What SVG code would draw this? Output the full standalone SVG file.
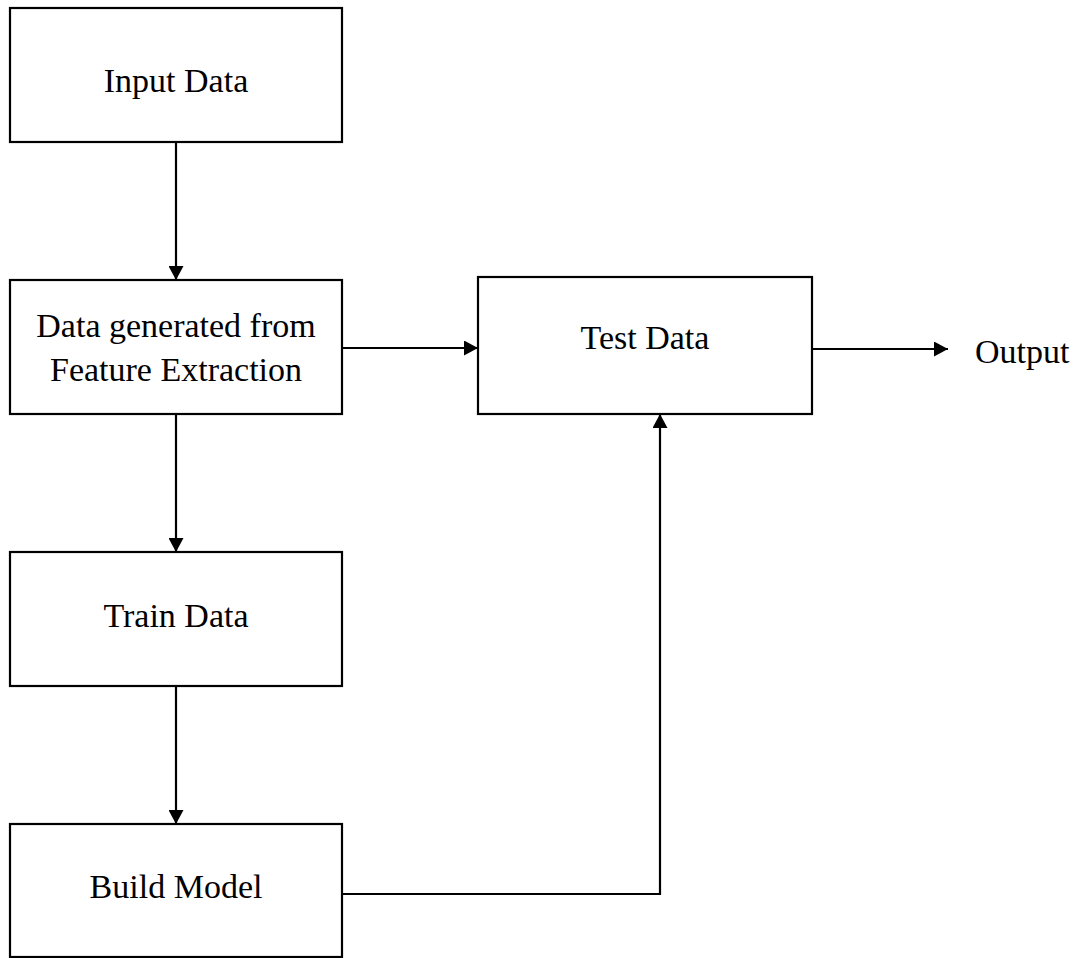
<svg xmlns="http://www.w3.org/2000/svg" width="1080" height="958" viewBox="0 0 1080 958">
<defs>
<style>
.box{fill:#fff;stroke:#000;stroke-width:2.2}
.lbl{font-family:"Liberation Serif","Times New Roman",serif;font-size:34px;fill:#000;text-anchor:middle}
.con{fill:none;stroke:#000;stroke-width:2.2}
</style>
<marker id="ah" viewBox="0 0 14 15" refX="14" refY="7.5" markerWidth="14" markerHeight="15" markerUnits="userSpaceOnUse" orient="auto">
<path d="M0,0 L14,7.5 L0,15 Z" fill="#000"/>
</marker>
</defs>
<rect width="1080" height="958" fill="#fff"/>
<g id="connectors">
<line class="con" x1="176" y1="142" x2="176" y2="280" marker-end="url(#ah)"/>
<line class="con" x1="176" y1="414" x2="176" y2="552" marker-end="url(#ah)"/>
<line class="con" x1="176" y1="686" x2="176" y2="824" marker-end="url(#ah)"/>
<line class="con" x1="342" y1="348" x2="478" y2="348" marker-end="url(#ah)"/>
<line class="con" x1="812" y1="349" x2="948" y2="349" marker-end="url(#ah)"/>
<polyline class="con" points="342,894 660,894 660,414" marker-end="url(#ah)"/>
</g>
<g id="input-data">
<rect class="box" x="10" y="8" width="332" height="134"/>
<text class="lbl" x="176" y="92">Input Data</text>
</g>
<g id="feature-extraction">
<rect class="box" x="10" y="280" width="332" height="134"/>
<text class="lbl" x="176" y="337">Data generated from</text>
<text class="lbl" x="176" y="381">Feature Extraction</text>
</g>
<g id="train-data">
<rect class="box" x="10" y="552" width="332" height="134"/>
<text class="lbl" x="176" y="627">Train Data</text>
</g>
<g id="build-model">
<rect class="box" x="10" y="824" width="332" height="133"/>
<text class="lbl" x="176" y="898">Build Model</text>
</g>
<g id="test-data">
<rect class="box" x="478" y="277" width="334" height="137"/>
<text class="lbl" x="645" y="349">Test Data</text>
</g>
<g id="output">
<text class="lbl" x="975" y="363" style="text-anchor:start">Output</text>
</g>
</svg>
